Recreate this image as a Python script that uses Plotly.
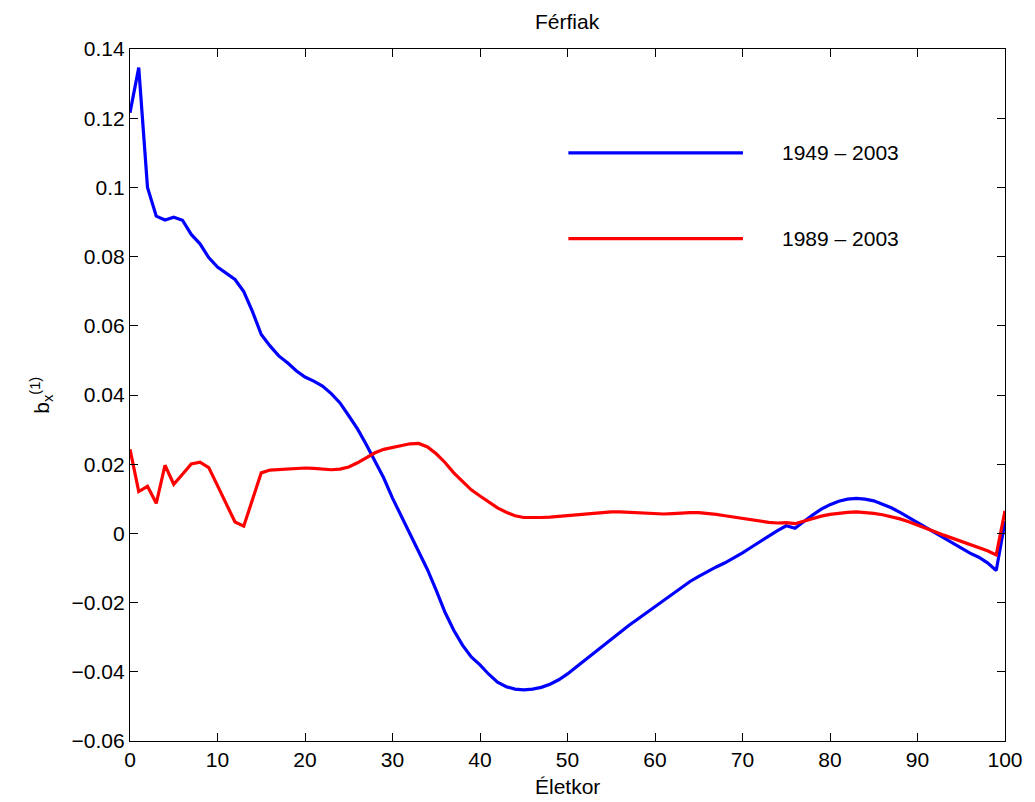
import plotly.graph_objects as go

# Age axis (Életkor), 0..100 years
ages = list(range(0, 101))

# b_x^(1) estimates, fit period 1949-2003
b_1949_2003 = [
    0.1216, 0.1346, 0.1000, 0.0917, 0.0906, 0.0914, 0.0905, 0.0864, 0.0837, 0.0797,
    0.0770, 0.0752, 0.0734, 0.0699, 0.0641, 0.0575, 0.0542, 0.0513, 0.0493, 0.0470,
    0.0452, 0.0440, 0.0426, 0.0404, 0.0377, 0.0340, 0.0302, 0.0257, 0.0209, 0.0160,
    0.0102, 0.0050, -0.0002, -0.0052, -0.0105, -0.0165, -0.0228, -0.0280, -0.0323, -0.0357,
    -0.0380, -0.0407, -0.0430, -0.0443, -0.0450, -0.0452, -0.0450, -0.0445, -0.0436, -0.0423,
    -0.0406, -0.0386, -0.0366, -0.0346, -0.0325, -0.0304, -0.0285, -0.0266, -0.0248, -0.0230,
    -0.0211, -0.0192, -0.0174, -0.0156, -0.0139, -0.0124, -0.0110, -0.0097, -0.0085, -0.0071,
    -0.0056, -0.0040, -0.0023, -0.0008, 0.0008, 0.0022, 0.0015, 0.0035, 0.0053, 0.0070,
    0.0083, 0.0093, 0.0099, 0.0101, 0.0099, 0.0094, 0.0085, 0.0074, 0.0061, 0.0046,
    0.0031, 0.0016, 0.0001, -0.0013, -0.0027, -0.0042, -0.0057, -0.0069, -0.0085, -0.0107,
    0.0035,
]

# b_x^(1) estimates, fit period 1989-2003
b_1989_2003 = [
    0.0243, 0.0121, 0.0136, 0.0087, 0.0197, 0.0142, 0.0171, 0.0201, 0.0206, 0.0190,
    0.0138, 0.0085, 0.0033, 0.0021, 0.0099, 0.0175, 0.0183, 0.0185, 0.0185, 0.0188,
    0.0189, 0.0188, 0.0186, 0.0184, 0.0186, 0.0192, 0.0204, 0.0219, 0.0233, 0.0243,
    0.0248, 0.0254, 0.0259, 0.0260, 0.0250, 0.0230, 0.0205, 0.0175, 0.0150, 0.0126,
    0.0108, 0.0090, 0.0074, 0.0061, 0.0051, 0.0046, 0.0045, 0.0046, 0.0047, 0.0049,
    0.0051, 0.0053, 0.0056, 0.0059, 0.0061, 0.0062, 0.0062, 0.0061, 0.0059, 0.0057,
    0.0056, 0.0056, 0.0057, 0.0059, 0.0060, 0.0060, 0.0058, 0.0055, 0.0051, 0.0047,
    0.0043, 0.0039, 0.0035, 0.0032, 0.0030, 0.0031, 0.0028, 0.0036, 0.0044, 0.0050,
    0.0055, 0.0059, 0.0061, 0.0062, 0.0061, 0.0058, 0.0054, 0.0049, 0.0042, 0.0034,
    0.0025, 0.0015, 0.0005, -0.0005, -0.0014, -0.0023, -0.0031, -0.0039, -0.0050, -0.0062,
    0.0065,
]

series_names = ["1949 \u2013 2003", "1989 \u2013 2003"]
series_colors = ["#0000ff", "#ff0000"]

x_ticks = [0, 10, 20, 30, 40, 50, 60, 70, 80, 90, 100]
y_ticks = [-0.06, -0.04, -0.02, 0, 0.02, 0.04, 0.06, 0.08, 0.1, 0.12, 0.14]

FONT = "Liberation Sans, Arial, Helvetica, sans-serif"

fig = go.Figure()
for name, vals, col in zip(series_names, [b_1949_2003, b_1989_2003], series_colors):
    fig.add_trace(go.Scatter(x=ages, y=vals, mode="lines", name=name,
                             line=dict(color=col, width=3.2), showlegend=False))

# Hand-drawn legend: long line samples with labels to the right
legend_rows = [0.85, 0.726]
for name, col, ly in zip(series_names, series_colors, legend_rows):
    fig.add_shape(type="line", xref="paper", yref="paper", x0=0.501, x1=0.7005,
                  y0=ly, y1=ly, line=dict(color=col, width=3.2))
    fig.add_annotation(xref="paper", yref="paper", x=0.743, y=ly, text=name,
                       showarrow=False, xanchor="left", yanchor="middle",
                       font=dict(family=FONT, size=21, color="black"))

axis_common = dict(showgrid=False, zeroline=False, showline=True, linecolor="black",
                   linewidth=1.2, mirror="ticks", ticks="inside", ticklen=8,
                   tickcolor="black", tickfont=dict(family=FONT, size=21, color="black"))

fig.update_xaxes(range=[0, 100], tickvals=x_ticks, ticktext=[str(v) for v in x_ticks],
                 **axis_common)
fig.update_yaxes(range=[-0.06, 0.14], tickvals=y_ticks,
                 ticktext=[("\u2212" if v < 0 else "") + ("%g" % abs(v)) for v in y_ticks],
                 **axis_common)

fig.add_annotation(xref="paper", yref="paper", x=0.5, y=1.04, text="Férfiak",
                   showarrow=False, xanchor="center", yanchor="middle",
                   font=dict(family=FONT, size=21, color="black"))
fig.add_annotation(xref="paper", yref="paper", x=0.5, y=-0.066, text="Életkor",
                   showarrow=False, xanchor="center", yanchor="middle",
                   font=dict(family=FONT, size=21, color="black"))
fig.add_annotation(xref="paper", yref="paper", x=-0.102, y=0.5,
                   text="b<sub>x</sub><sup>(1)</sup>", textangle=-90,
                   showarrow=False, xanchor="center", yanchor="middle",
                   font=dict(family=FONT, size=21, color="black"))

fig.update_layout(width=1035, height=802, plot_bgcolor="white", paper_bgcolor="white",
                  margin=dict(l=130, r=27, t=49, b=61, pad=0))

fig.write_html("out.html")
